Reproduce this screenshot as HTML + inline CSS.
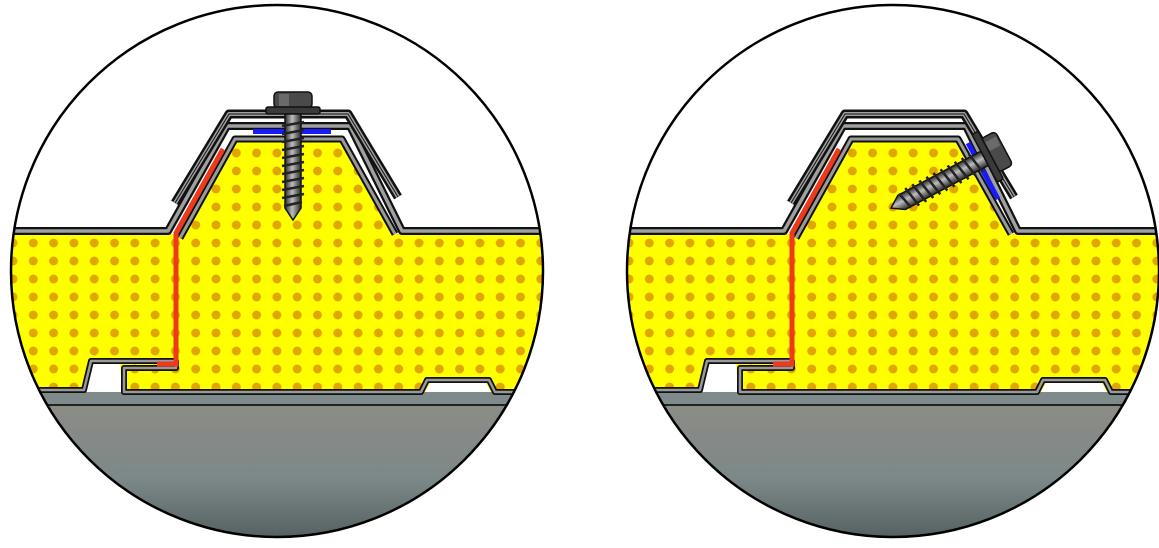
<!DOCTYPE html>
<html><head><meta charset="utf-8"><style>
html,body{margin:0;padding:0;background:#fff;width:1159px;height:548px;overflow:hidden}
svg{display:block}
</style></head><body>
<svg width="1159" height="548" viewBox="0 0 1159 548" xmlns="http://www.w3.org/2000/svg">
<defs>
  <pattern id="dots" x="3" y="-2" width="20.3" height="18" patternUnits="userSpaceOnUse">
    <rect width="20.3" height="18" fill="#ffff00"/>
    <circle cx="10" cy="11" r="4.5" fill="#e2a600"/>
  </pattern>
  <linearGradient id="slab" x1="0" y1="0" x2="0" y2="1">
    <stop offset="0" stop-color="#8c8c86"/>
    <stop offset="0.5" stop-color="#7c8888"/>
    <stop offset="1" stop-color="#4a5656"/>
  </linearGradient>
  <linearGradient id="metal" x1="0" y1="0" x2="1" y2="0">
    <stop offset="0" stop-color="#2a2a2a"/>
    <stop offset="0.45" stop-color="#bdbdbd"/>
    <stop offset="1" stop-color="#2a2a2a"/>
  </linearGradient>
  <clipPath id="cL"><circle cx="277" cy="271" r="266"/></clipPath>
  <clipPath id="cR"><circle cx="893" cy="271" r="266"/></clipPath>

  <g id="screw">
    <rect x="-19" y="0" width="38" height="16" rx="4" fill="#4a4a4a" stroke="#111" stroke-width="1.5"/>
    <rect x="-14" y="2" width="10" height="12" fill="#6a6a6a"/>
    <rect x="-27" y="15" width="54" height="7" rx="2" fill="#3a3a3a" stroke="#111" stroke-width="1.5"/>
    <path d="M-8,22 L8,22 L8,116 L0,128 L-8,116 Z" fill="url(#metal)" stroke="#111" stroke-width="1.5"/>
    <path d="M-11,34 L11,30 M-11,42 L11,38 M-11,50 L11,46 M-11,58 L11,54 M-11,66 L11,62 M-11,74 L11,70 M-11,82 L11,78 M-11,90 L11,86 M-11,98 L11,94 M-11,106 L11,102 M-9,114 L9,110" stroke="#222" stroke-width="2.5" fill="none"/>
  </g>

  <g id="scene">
    <rect x="0" y="0" width="560" height="548" fill="#fff"/>
    <path d="M0,234 L178,234 L235,139 L342,139 L395,234 L560,234 L560,392 L0,392 Z" fill="url(#dots)"/>
    <path d="M85,392 L92,362 L120,362 L122,392 Z" fill="#fff"/>
    <path d="M425,392 L430,383 L486,383 L491,392 Z" fill="#fff"/>
    <rect x="0" y="392" width="560" height="14" fill="#7f8b8b"/>
    <rect x="0" y="405" width="560" height="150" fill="url(#slab)"/>
    <line x1="0" y1="405" x2="560" y2="405" stroke="#222" stroke-width="2"/>
    <path d="M0,390 L84,390 L91,361 L176,361 L176,368 L124,368 L124,392 L421,392 L427,380 L489,380 L495,392 L560,392" fill="none" stroke="#111" stroke-width="6" stroke-linejoin="round"/>
    <path d="M0,390 L84,390 L91,361 L176,361 L176,368 L124,368 L124,392 L421,392 L427,380 L489,380 L495,392 L560,392" fill="none" stroke="#9a9a9a" stroke-width="2.5" stroke-linejoin="round"/>
    <line x1="176" y1="234" x2="176" y2="366" stroke="#111" stroke-width="3"/>
    <path d="M180,238 L235,139 L342,139 L395,234" fill="none" stroke="#111" stroke-width="7" stroke-linejoin="round"/>
    <path d="M180,238 L235,139 L342,139 L395,234" fill="none" stroke="#9a9a9a" stroke-width="3" stroke-linejoin="round"/>
    <path d="M0,231 L168,231 L227,126 L350,126 L402,231 L560,231" fill="none" stroke="#111" stroke-width="8" stroke-linejoin="round"/>
    <path d="M0,231 L168,231 L227,126 L350,126 L402,231 L560,231" fill="none" stroke="#a0a0a0" stroke-width="3.5" stroke-linejoin="round"/>
    <path d="M175,203 L229,114 L348,114 L398,197" fill="none" stroke="#111" stroke-width="9" stroke-linejoin="round"/>
    <path d="M175,203 L229,114 L348,114 L398,197" fill="none" stroke="#a0a0a0" stroke-width="4" stroke-linejoin="round"/>
    <path d="M175,203 L229,114 L348,114 L398,197" fill="none" stroke="#111" stroke-width="1" stroke-linejoin="round"/>
    <path d="M223,149 L176,233 L176,364 L157,364" fill="none" stroke="#ee3a1a" stroke-width="5"/>
  </g>
</defs>

<g clip-path="url(#cL)">
  <use href="#scene"/>
  <rect x="253" y="129" width="78" height="5" fill="#1a1aff"/>
  <use href="#screw" transform="translate(293,92)"/>
</g>
<circle cx="277" cy="271" r="266" fill="none" stroke="#000" stroke-width="2.5"/>

<g clip-path="url(#cR)">
  <g transform="translate(616,0)"><use href="#scene"/></g>
  <line x1="968" y1="143" x2="998" y2="199" stroke="#1a1aff" stroke-width="5"/>
  <use href="#screw" transform="translate(1004,148) rotate(62)"/>
</g>
<circle cx="893" cy="271" r="266" fill="none" stroke="#000" stroke-width="2.5"/>
</svg>
</body></html>
